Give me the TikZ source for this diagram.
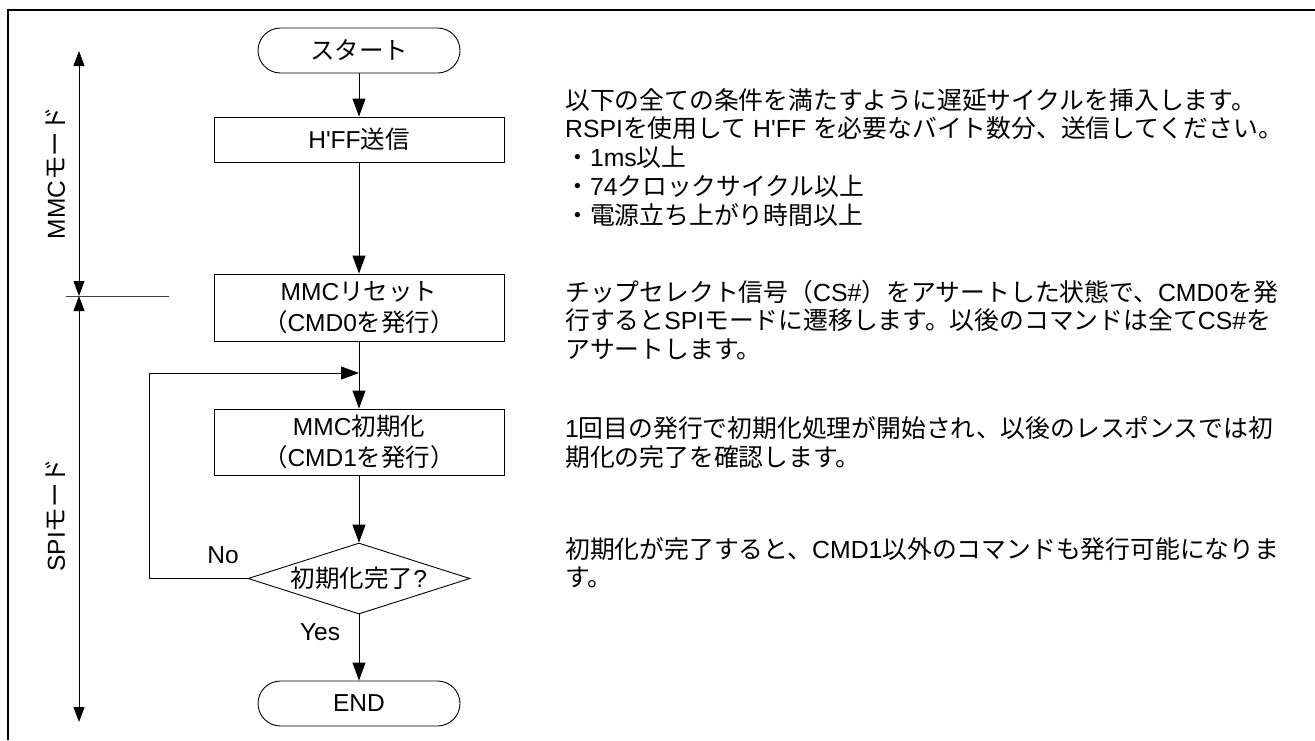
\documentclass[tikz,border=0pt]{standalone}
\usepackage{fontspec}
\setmainfont{Liberation Sans}[Ligatures=TeXOff]
\newfontfamily\jafont{Noto Sans CJK JP}
\usetikzlibrary{arrows.meta,shapes.geometric}
\XeTeXinterchartokenstate=1
\newXeTeXintercharclass\jaclass
\newcount\jacnt
\def\setjarange#1#2{\jacnt=#1\relax\loop\XeTeXcharclass\jacnt=\jaclass\relax\ifnum\jacnt<#2\relax\advance\jacnt by 1\relax\repeat}
\setjarange{"3000}{"30FF}
\setjarange{"4E00}{"9FFF}
\setjarange{"FF00}{"FFEF}
\XeTeXinterchartoks 0 \jaclass={\jafont}
\XeTeXinterchartoks 4095 \jaclass={\jafont}
\XeTeXinterchartoks \jaclass 0={\rmfamily}
\XeTeXinterchartoks \jaclass 4095={\rmfamily}
\tikzset{
  txt/.style={font=\fontsize{24.5}{30.6}\selectfont, inner sep=0pt},
  note/.style={font=\fontsize{24.8}{28.8}\selectfont, inner sep=0pt, anchor=base west, align=left},
  terminal/.style={txt, draw, line width=0.9pt, rounded corners=22.5pt, minimum width=202pt, minimum height=45pt},
  procbox/.style={txt, draw, line width=0.9pt, minimum width=290pt, align=center},
  decision/.style={txt, draw, line width=0.9pt, diamond, shape aspect=3.1, minimum width=222pt, minimum height=71pt},
  flow/.style={line width=0.9pt, -{Triangle[width=13pt,length=18pt]}},
  span/.style={line width=0.9pt, {Triangle[width=11pt,length=15pt]}-{Triangle[width=11pt,length=15pt]}},
}
\begin{document}
\begin{tikzpicture}[x=1pt,y=-1pt]
\useasboundingbox (0,0) rectangle (1315,740);
% frame
\coordinate (fBL) at (8,740);
\coordinate (fTL) at (8,10);
\coordinate (fTR) at (1315,10);
\draw[line width=2pt] (fBL) -- (fTL) -- (fTR);

% flowchart nodes
\node[terminal] (start) at (359,50.5) {スタート};
\node[procbox, minimum height=45pt] (hff) at (359,139.5) {H'FF送信};
\node[procbox, minimum height=67.6pt] (reset) at (359,307.8) {MMCリセット\\（CMD0を発行）};
\node[procbox, minimum height=66pt] (init) at (359,442) {MMC初期化\\（CMD1を発行）};
\node[decision] (dec) at (359,578.5) {初期化完了?};
\node[terminal] (end) at (359,703.5) {END};

\draw[flow] (start) -- (hff);
\draw[flow] (hff) -- (reset);
\draw[flow] (reset) -- (init);
\draw[flow] (init) -- (dec);
\draw[flow] (dec) -- (end);

\coordinate (loopB) at (149,578.5);
\coordinate (loopT) at (149,373);
\coordinate (loopE) at (359,373);
\draw[flow] (dec.west) -- (loopB) -- (loopT) -- (loopE);

\node[txt] (no) at (223,555) {No};
\node[txt] (yes) at (320,632) {Yes};

% mode spans
\coordinate (mmcTop) at (79,51);
\coordinate (split) at (79,296);
\coordinate (spiBot) at (79,722);
\draw[span] (mmcTop) -- (split);
\draw[span] (split) -- (spiBot);
\coordinate (tickL) at (66,296);
\coordinate (tickR) at (169,296);
\draw[line width=0.8pt, black!75] (tickL) -- (tickR);
\node[txt, rotate=90] (mmcmode) at (56,173) {MMCモード};
\node[txt, rotate=90] (spimode) at (56,515) {SPIモード};

% notes (anchor = baseline of the last line)
\node[note] (n1) at (565,224.3) {以下の全ての条件を満たすように遅延サイクルを挿入します。\\RSPIを使用して H'FF を必要なバイト数分、送信してください。\\・1ms以上\\・74クロックサイクル以上\\・電源立ち上がり時間以上};
\node[note] (n2) at (565,358.6) {チップセレクト信号（CS\#）をアサートした状態で、CMD0を発\\行するとSPIモードに遷移します。以後のコマンドは全てCS\#を\\アサートします。};
\node[note] (n3) at (565,466) {1回目の発行で初期化処理が開始され、以後のレスポンスでは初\\期化の完了を確認します。};
\node[note] (n4) at (565,586.9) {初期化が完了すると、CMD1以外のコマンドも発行可能になりま\\す。};
\end{tikzpicture}
\end{document}
